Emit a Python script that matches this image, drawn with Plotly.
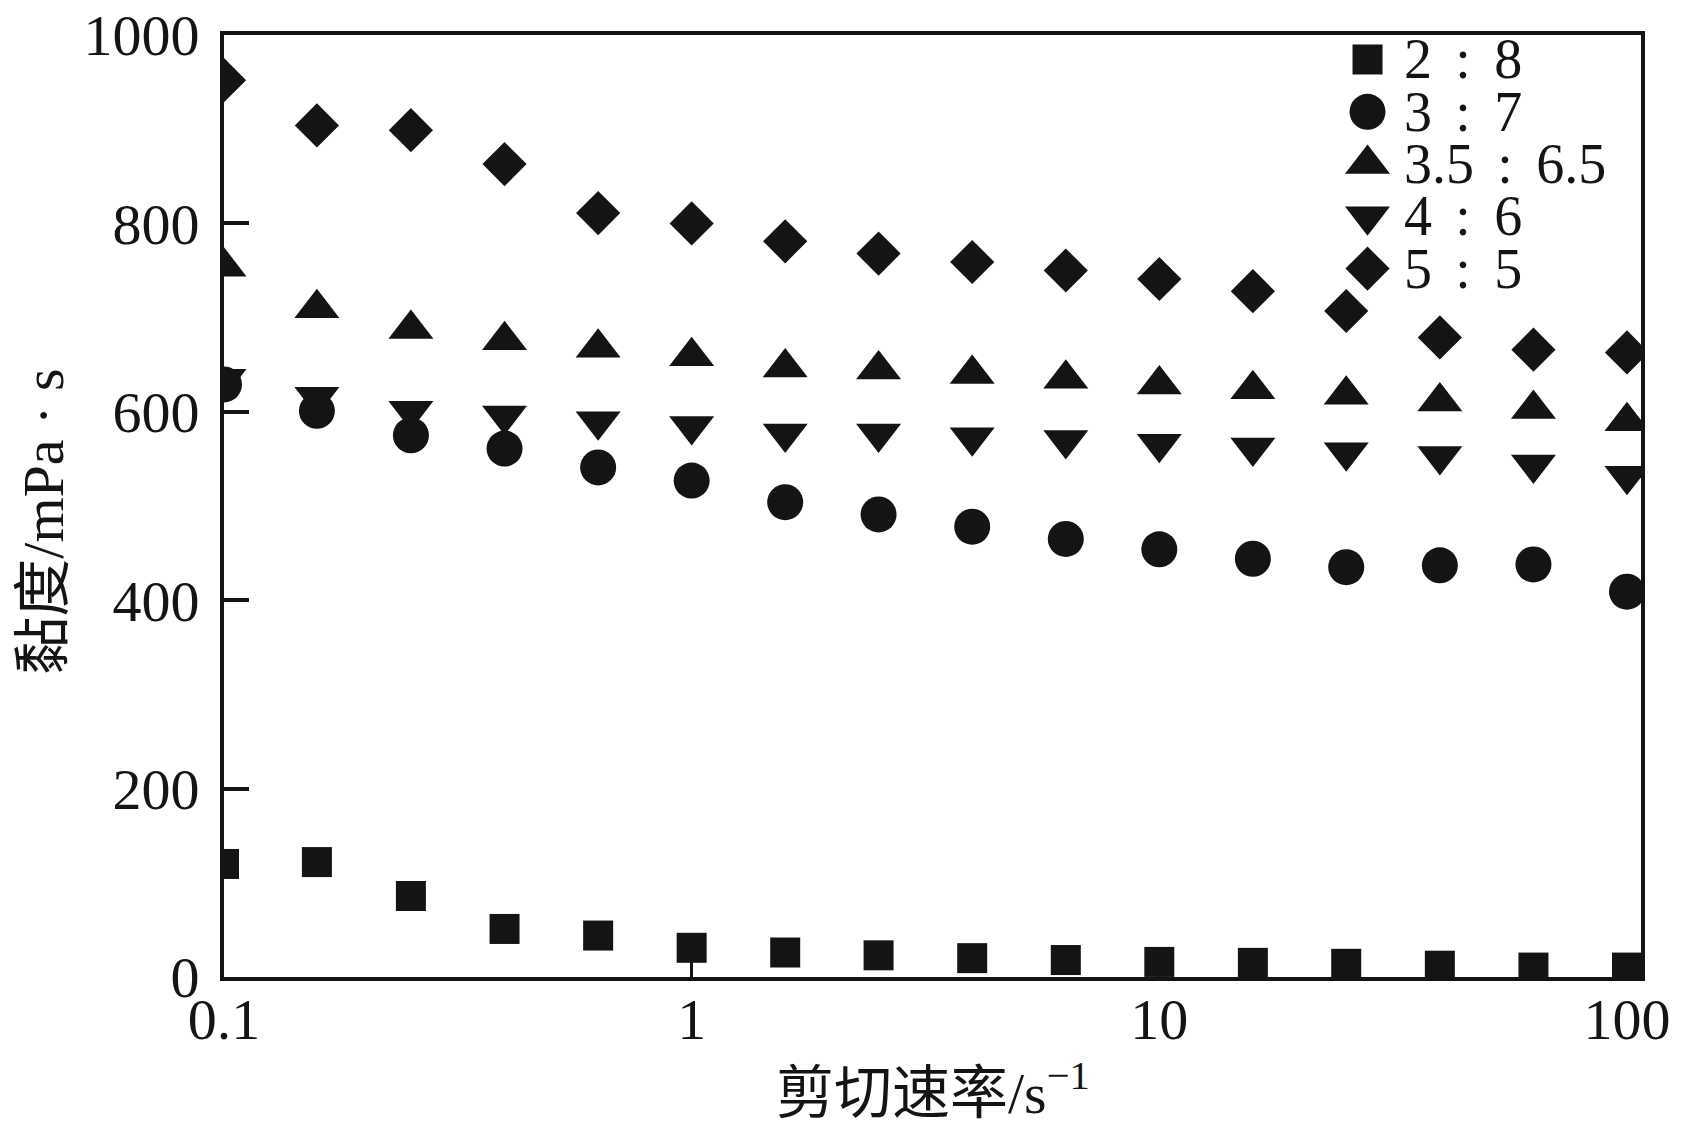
import plotly.graph_objects as go

# ---- data ----
shear_rate = [0.1, 0.158, 0.251, 0.398, 0.631, 1.0, 1.585, 2.51, 3.98, 6.31,
              10.0, 15.85, 25.1, 39.8, 63.1, 100.0]
SEP = "\u2004\u200a:\u2004\u200a"
series_names = ["2" + SEP + "8", "3" + SEP + "7", "3.5" + SEP + "6.5",
                "4" + SEP + "6", "5" + SEP + "5"]
visc_2_8 = [120, 122, 86, 51, 44, 31, 26, 23, 20, 18, 16, 15, 14, 12, 10, 10]
visc_3_7 = [629, 601, 575, 561, 541, 527, 504, 491, 478, 465, 454, 444, 435, 437, 438, 409]
visc_35_65 = [754, 710, 688, 676, 668, 659, 647, 645, 640, 635, 629, 624, 618, 611, 603, 590]
visc_4_6 = [635, 616, 601, 596, 590, 585, 577, 577, 573, 570, 566, 562, 557, 553, 544, 532]
visc_5_5 = [952, 904, 899, 863, 811, 800, 781, 768, 759, 750, 741, 728, 707, 679, 666, 663]
x_ticks = [0.1, 1, 10, 100]
x_ticktext = ["0.1", "1", "10", "100"]
y_ticks = [0, 200, 400, 600, 800, 1000]

all_series = [visc_2_8, visc_3_7, visc_35_65, visc_4_6, visc_5_5]
symbols = ["square", "circle", "triangle-up", "triangle-down", "diamond"]
sizes = [30, 36, 39, 39, 34]

INK = "#141414"
FONT = "Liberation Serif, Noto Sans CJK SC, serif"

fig = go.Figure()
for name, vals, sym, sz in zip(series_names, all_series, symbols, sizes):
    fig.add_trace(go.Scatter(
        x=shear_rate, y=vals, mode="markers", name=name,
        marker=dict(symbol=sym, size=sz, color=INK, line=dict(width=0)),
        showlegend=False, xaxis="x", yaxis="y",
    ))

# ---- legend drawn on a hidden overlay axis (0..1 box) ----
leg_x_marker = 0.807
leg_x_text = 0.831
leg_y0 = 0.974
leg_dy = 0.0555
for i, (name, sym, sz) in enumerate(zip(series_names, symbols, sizes)):
    yy = leg_y0 - i * leg_dy
    fig.add_trace(go.Scatter(
        x=[leg_x_marker], y=[yy], mode="markers", showlegend=False,
        marker=dict(symbol=sym, size=sz, color=INK, line=dict(width=0)),
        xaxis="x2", yaxis="y2", hoverinfo="skip",
    ))
    fig.add_annotation(
        x=leg_x_text, y=yy, xref="x2", yref="y2", text=name, showarrow=False,
        xanchor="left", yanchor="middle",
        font=dict(family=FONT, size=56, color=INK),
    )

fig.add_annotation(
    x=0.5, y=-0.119, xref="paper", yref="paper",
    text="剪切速率/s<sup>−1</sup>", showarrow=False,
    xanchor="center", yanchor="middle",
    font=dict(family=FONT, size=58, color=INK),
)
fig.add_annotation(
    x=-0.128, y=0.483, xref="paper", yref="paper",
    text="黏度/mPa · s", showarrow=False, textangle=-90,
    xanchor="center", yanchor="middle",
    font=dict(family=FONT, size=58, color=INK),
)

fig.update_layout(
    width=1667, height=1118,
    margin=dict(l=216, r=34, t=27, b=149, autoexpand=False),
    paper_bgcolor="white", plot_bgcolor="white",
    font=dict(family=FONT, color=INK),
    xaxis=dict(
        type="log", range=[-1.0, 2.03],
        tickvals=x_ticks, ticktext=x_ticktext,
        ticks="inside", ticklen=16, tickwidth=3, tickcolor=INK,
        showline=True, linewidth=4, linecolor=INK, mirror=True,
        showgrid=False, zeroline=False, automargin=False,
        tickfont=dict(family=FONT, size=58, color=INK),
        ticklabelstandoff=-12, ticklabeloverflow="allow",
    ),
    yaxis=dict(
        range=[0, 1000], tickvals=y_ticks,
        ticks="inside", ticklen=25, tickwidth=4, tickcolor=INK,
        showline=True, linewidth=4, linecolor=INK, mirror=True,
        showgrid=False, zeroline=False, automargin=False,
        tickfont=dict(family=FONT, size=58, color=INK),
        ticklabelstandoff=9, ticklabeloverflow="allow",
    ),
    xaxis2=dict(overlaying="x", range=[0, 1], visible=False, anchor="y2",
                automargin=False),
    yaxis2=dict(overlaying="y", range=[0, 1], visible=False, anchor="x2",
                automargin=False),
)

fig.write_html("out.html")
